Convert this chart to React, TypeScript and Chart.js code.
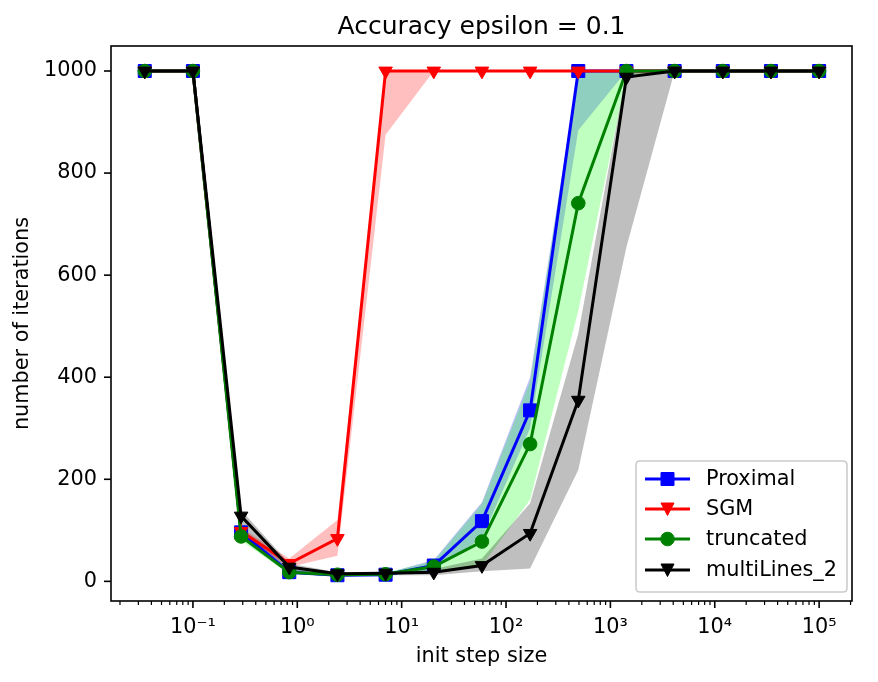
import React, { useEffect, useRef } from 'react';
import { Chart, registerables } from 'chart.js';

Chart.register(...registerables);

// ---- data ----
const stepSizes = [0.03455, 0.1, 0.2894, 0.8377, 2.424, 7.017, 20.31, 58.78, 170.1, 492.4, 1425, 4125, 11938, 34551, 100000];

const proximalMean = [1000, 1000, 96, 18, 12, 13, 31, 118, 335, 1000, 1000, 1000, 1000, 1000, 1000];
const proximalLow = [1000, 1000, 88, 15, 10, 10, 22, 85, 300, 884, 1000, 1000, 1000, 1000, 1000];
const proximalHigh = [1000, 1000, 104, 24, 15, 16, 42, 155, 400, 1000, 1000, 1000, 1000, 1000, 1000];

const sgmMean = [1000, 1000, 98, 35, 84, 1000, 1000, 1000, 1000, 1000, 1000, 1000, 1000, 1000, 1000];
const sgmLow = [1000, 1000, 90, 28, 50, 875, 1000, 1000, 1000, 1000, 1000, 1000, 1000, 1000, 1000];
const sgmHigh = [1000, 1000, 105, 45, 120, 1000, 1000, 1000, 1000, 1000, 1000, 1000, 1000, 1000, 1000];

const truncatedMean = [1000, 1000, 88, 18, 13, 14, 29, 78, 269, 741, 1000, 1000, 1000, 1000, 1000];
const truncatedLow = [1000, 1000, 80, 14, 10, 11, 20, 30, 160, 530, 990, 1000, 1000, 1000, 1000];
const truncatedHigh = [1000, 1000, 98, 22, 16, 17, 40, 152, 392, 1000, 1000, 1000, 1000, 1000, 1000];

const multiMean = [1000, 1000, 128, 28, 15, 16, 18, 31, 94, 355, 988, 1000, 1000, 1000, 1000];
const multiLow = [1000, 1000, 95, 22, 12, 12, 12, 20, 25, 218, 655, 1000, 1000, 1000, 1000];
const multiHigh = [1000, 1000, 140, 35, 18, 19, 24, 45, 153, 485, 1000, 1000, 1000, 1000, 1000];

const yTicks = [0, 200, 400, 600, 800, 1000];
const xMajorTicks = [0.1, 1, 10, 100, 1000, 10000, 100000];
const xTickLabels = ['10\u207B\u00B9', '10\u2070', '10\u00B9', '10\u00B2', '10\u00B3', '10\u2074', '10\u2075'];

const seriesNames = ['Proximal', 'SGM', 'truncated', 'multiLines_2'];
const seriesColors = ['#0000ff', '#ff0000', '#008000', '#000000'];
const seriesMarkers = ['square', 'tridown', 'circle', 'tridown'];
const bandColors = ['rgba(0,0,255,0.25)', 'rgba(255,0,0,0.25)', 'rgba(0,255,0,0.25)', 'rgba(0,0,0,0.25)'];

const FONT = "'DejaVu Sans', sans-serif";
const FS = 20.8;

function pts(arr: number[]) {
  return arr.map((y, i) => ({ x: stepSizes[i], y }));
}

function drawMarker(ctx: CanvasRenderingContext2D, kind: string, x: number, y: number, color: string) {
  ctx.save();
  ctx.fillStyle = color;
  ctx.strokeStyle = color;
  ctx.lineWidth = 1;
  ctx.beginPath();
  if (kind === 'square') {
    ctx.rect(x - 6.5, y - 6.5, 13, 13);
  } else if (kind === 'circle') {
    ctx.arc(x, y, 6.8, 0, Math.PI * 2);
  } else {
    ctx.moveTo(x - 6.5, y - 6);
    ctx.lineTo(x + 6.5, y - 6);
    ctx.lineTo(x, y + 6.5);
    ctx.closePath();
  }
  ctx.fill();
  ctx.stroke();
  ctx.restore();
}

const decorPlugin = {
  id: 'decor',
  afterDraw(chart: any) {
    const ctx: CanvasRenderingContext2D = chart.ctx;
    const a = chart.chartArea;
    ctx.save();
    // frame
    ctx.strokeStyle = '#000';
    ctx.lineWidth = 1.6;
    ctx.strokeRect(a.left, a.top, a.right - a.left, a.bottom - a.top);
    // x ticks
    const xs = chart.scales.x;
    xs.ticks.forEach((t: any) => {
      const v = t.value;
      const lg = Math.log10(v);
      const major = Math.abs(lg - Math.round(lg)) < 1e-6;
      const px = xs.getPixelForValue(v);
      if (px < a.left - 0.5 || px > a.right + 0.5) return;
      ctx.lineWidth = major ? 1.6 : 1.2;
      ctx.beginPath();
      ctx.moveTo(px, a.bottom);
      ctx.lineTo(px, a.bottom + (major ? 7 : 4));
      ctx.stroke();
    });
    // y ticks
    const ys = chart.scales.y;
    ys.ticks.forEach((t: any) => {
      const py = ys.getPixelForValue(t.value);
      ctx.lineWidth = 1.6;
      ctx.beginPath();
      ctx.moveTo(a.left, py);
      ctx.lineTo(a.left - 7, py);
      ctx.stroke();
    });
    // title
    ctx.fillStyle = '#000';
    ctx.font = `25px ${FONT}`;
    ctx.textAlign = 'center';
    ctx.textBaseline = 'middle';
    ctx.fillText('Accuracy epsilon = 0.1', (a.left + a.right) / 2, 27);

    // legend
    const lx = 636, ly = 461, lw = 211, lh = 131;
    ctx.beginPath();
    const r = 4;
    ctx.moveTo(lx + r, ly);
    ctx.lineTo(lx + lw - r, ly);
    ctx.quadraticCurveTo(lx + lw, ly, lx + lw, ly + r);
    ctx.lineTo(lx + lw, ly + lh - r);
    ctx.quadraticCurveTo(lx + lw, ly + lh, lx + lw - r, ly + lh);
    ctx.lineTo(lx + r, ly + lh);
    ctx.quadraticCurveTo(lx, ly + lh, lx, ly + lh - r);
    ctx.lineTo(lx, ly + r);
    ctx.quadraticCurveTo(lx, ly, lx + r, ly);
    ctx.closePath();
    ctx.fillStyle = 'rgba(255,255,255,0.8)';
    ctx.fill();
    ctx.strokeStyle = '#cccccc';
    ctx.lineWidth = 1.6;
    ctx.stroke();
    const rows = [479, 509, 539, 570];
    seriesNames.forEach((name, i) => {
      const yy = rows[i];
      ctx.strokeStyle = seriesColors[i];
      ctx.lineWidth = 3;
      ctx.beginPath();
      ctx.moveTo(645, yy);
      ctx.lineTo(690, yy);
      ctx.stroke();
      drawMarker(ctx, seriesMarkers[i], 667.5, yy, seriesColors[i]);
      ctx.fillStyle = '#000';
      ctx.font = `${FS}px ${FONT}`;
      ctx.textAlign = 'left';
      ctx.textBaseline = 'middle';
      ctx.fillText(name, 706, yy + 1);
    });
    ctx.restore();
  },
};

export default function App() {
  const ref = useRef<HTMLCanvasElement | null>(null);
  useEffect(() => {
    if (!ref.current) return;
    Chart.defaults.font.family = FONT;
    Chart.defaults.color = '#000';

    const bands = [
      [proximalLow, proximalHigh],
      [sgmLow, sgmHigh],
      [truncatedLow, truncatedHigh],
      [multiLow, multiHigh],
    ];
    const means = [proximalMean, sgmMean, truncatedMean, multiMean];
    const datasets: any[] = [];
    bands.forEach((b, i) => {
      const lowIdx = datasets.length;
      datasets.push({
        data: pts(b[0]),
        borderColor: 'rgba(0,0,0,0)',
        borderWidth: 0,
        pointRadius: 0,
        fill: false,
        order: 20 - i * 2,
        tension: 0,
      });
      datasets.push({
        data: pts(b[1]),
        borderColor: 'rgba(0,0,0,0)',
        borderWidth: 0,
        pointRadius: 0,
        backgroundColor: bandColors[i],
        fill: lowIdx,
        order: 19 - i * 2,
        tension: 0,
      });
    });
    means.forEach((m, i) => {
      const mk = seriesMarkers[i];
      datasets.push({
        label: seriesNames[i],
        data: pts(m),
        borderColor: seriesColors[i],
        backgroundColor: seriesColors[i],
        borderWidth: 3,
        pointStyle: mk === 'square' ? 'rect' : mk === 'circle' ? 'circle' : 'triangle',
        pointRotation: mk === 'tridown' ? 180 : 0,
        pointRadius: mk === 'square' ? 9.2 : mk === 'circle' ? 6.8 : 7.8,
        pointBorderWidth: 1,
        pointBackgroundColor: seriesColors[i],
        pointBorderColor: seriesColors[i],
        fill: false,
        order: 4 - i,
        tension: 0,
      });
    });

    const minorTicks: number[] = [];
    for (let e = -2; e <= 5; e++) {
      for (let m = 1; m <= 9; m++) minorTicks.push(m * Math.pow(10, e));
    }

    const chart = new Chart(ref.current, {
      type: 'line',
      data: { datasets },
      plugins: [decorPlugin],
      options: {
        animation: false,
        responsive: false,
        maintainAspectRatio: false,
        parsing: true,
        layout: { padding: { top: 46, right: 26, bottom: 12.5, left: 10 } },
        plugins: {
          legend: { display: false },
          tooltip: { enabled: false },
          title: { display: false },
          filler: { drawTime: 'beforeDatasetsDraw' },
        } as any,
        scales: {
          x: {
            type: 'logarithmic',
            min: Math.pow(10, -1.785),
            max: Math.pow(10, 5.315),
            grid: { display: false, drawTicks: false, tickLength: 0 },
            border: { display: false },
            afterBuildTicks: (scale: any) => {
              scale.ticks = minorTicks
                .filter((v) => v >= scale.min && v <= scale.max)
                .map((v) => ({ value: v }));
            },
            afterFit: (scale: any) => {
              scale.height = 68.5;
            },
            ticks: {
              autoSkip: false,
              maxRotation: 0,
              minRotation: 0,
              padding: 14,
              font: { size: FS, family: FONT },
              color: '#000',
              callback: (value: any) => {
                const idx = xMajorTicks.findIndex((t) => Math.abs(t - value) / t < 1e-6);
                return idx >= 0 ? xTickLabels[idx] : '';
              },
            },
            title: {
              display: true,
              text: 'init step size',
              font: { size: FS, family: FONT },
              color: '#000',
              padding: 0,
            },
          },
          y: {
            type: 'linear',
            min: -38.5,
            max: 1049,
            grid: { display: false, drawTicks: false, tickLength: 0 },
            border: { display: false },
            afterBuildTicks: (scale: any) => {
              scale.ticks = yTicks.map((v) => ({ value: v }));
            },
            afterFit: (scale: any) => {
              scale.width = 101;
            },
            ticks: {
              padding: 14,
              font: { size: FS, family: FONT },
              color: '#000',
              callback: (value: any) => String(value),
            },
            title: {
              display: true,
              text: 'number of iterations',
              font: { size: FS, family: FONT },
              color: '#000',
              padding: 0,
            },
          },
        },
      } as any,
    });
    return () => chart.destroy();
  }, []);

  return (
    <div style={{ position: 'fixed', left: 0, top: 0, width: 878, height: 682, background: '#fff' }}>
      <canvas ref={ref} width={878} height={682} style={{ width: 878, height: 682, display: 'block' }} />
    </div>
  );
}
